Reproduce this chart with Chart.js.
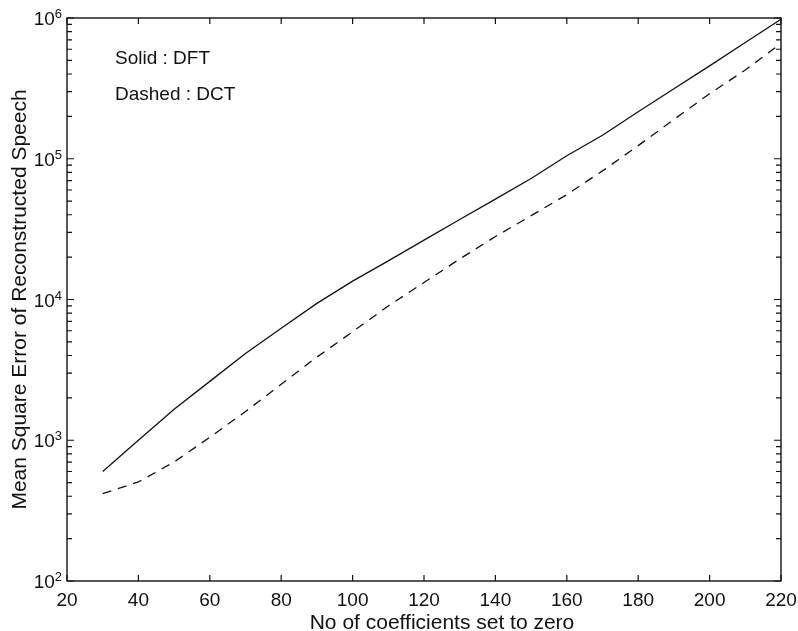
<!DOCTYPE html>
<html>
<head>
<meta charset="utf-8">
<script src="https://cdn.jsdelivr.net/npm/chart.js@4/dist/chart.umd.min.js"></script>
<style>
  html, body { margin: 0; padding: 0; background: #fff; }
  #wrap { width: 798px; height: 631px; }
</style>
</head>
<body>
<div id="wrap"><canvas id="mse"></canvas></div>
<script>
// coefficients set to zero
var coeffs = [30, 40, 50, 60, 70, 80, 90, 100, 110, 120, 130, 140, 150, 160, 170, 180, 190, 200, 210, 220];
// mean square error
var dftErr = [600, 1000, 1660, 2620, 4140, 6240, 9380, 13500, 18800, 26400, 37000, 51700, 72400, 105000, 147000, 216000, 314000, 457000, 670000, 980000];
var dctErr = [418, 506, 700, 1050, 1600, 2500, 3900, 5900, 9000, 13200, 19400, 28000, 39400, 55600, 82000, 124000, 190000, 290000, 427000, 660000];
var xTicks = [20, 40, 60, 80, 100, 120, 140, 160, 180, 200, 220];
var yTicks = [1e2, 1e3, 1e4, 1e5, 1e6];

const FONT = '"Liberation Sans", Arial, Helvetica, sans-serif';
const INK = '#111';

function pts(ys) {
  return coeffs.map((c, i) => ({x: c, y: ys[i]}));
}

// matlab style box with inward ticks, power-of-ten labels and notes
const frame = {
  id: 'frame',
  afterDatasetsDraw(chart) {
    const {ctx, chartArea: a, scales} = chart;
    const xs = scales.x, ys = scales.y;
    ctx.save();
    ctx.strokeStyle = INK;
    ctx.lineWidth = 1.4;
    ctx.strokeRect(a.left, a.top, a.right - a.left, a.bottom - a.top);
    ctx.lineWidth = 1.2;
    ctx.beginPath();
    xTicks.forEach(v => {
      const px = xs.getPixelForValue(v);
      ctx.moveTo(px, a.bottom); ctx.lineTo(px, a.bottom - 6);
      ctx.moveTo(px, a.top); ctx.lineTo(px, a.top + 6);
    });
    for (let k = 2; k <= 6; k++) {
      for (let m = 1; m <= 9; m++) {
        const v = m * Math.pow(10, k);
        if (v > 1e6) break;
        const py = ys.getPixelForValue(v);
        const len = m === 1 ? 7 : 5;
        ctx.moveTo(a.left, py); ctx.lineTo(a.left + len, py);
        ctx.moveTo(a.right, py); ctx.lineTo(a.right - len, py);
      }
    }
    ctx.stroke();

    ctx.fillStyle = INK;
    // y tick labels 10^k
    yTicks.forEach(v => {
      const py = ys.getPixelForValue(v);
      const e = String(Math.round(Math.log10(v)));
      ctx.font = '13px ' + FONT;
      const ew = ctx.measureText(e).width;
      ctx.textAlign = 'right';
      ctx.textBaseline = 'alphabetic';
      ctx.fillText(e, a.left - 5, py);
      ctx.font = '19px ' + FONT;
      ctx.textBaseline = 'middle';
      ctx.fillText('10', a.left - 5 - ew, py + 2);
    });

    ctx.textAlign = 'left';
    ctx.textBaseline = 'middle';
    ctx.font = '19px ' + FONT;
    ctx.fillText('Solid : DFT', a.left + 48, 59);
    ctx.fillText('Dashed : DCT', a.left + 48, 95);

    ctx.textAlign = 'center';
    ctx.font = '21px ' + FONT;
    ctx.fillText('No of coefficients set to zero', 442, 623);
    ctx.restore();
  }
};

new Chart(document.getElementById('mse'), {
  type: 'line',
  data: {
    datasets: [{
      label: 'DFT',
      data: pts(dftErr),
      borderColor: INK,
      borderWidth: 1.3,
      pointRadius: 0,
      fill: false,
      tension: 0
    }, {
      label: 'DCT',
      data: pts(dctErr),
      borderColor: INK,
      borderWidth: 1.3,
      borderDash: [9, 7],
      pointRadius: 0,
      fill: false,
      tension: 0
    }]
  },
  options: {
    responsive: true,
    maintainAspectRatio: false,
    animation: false,
    layout: { padding: { left: 0, right: 17, top: 18, bottom: 0 } },
    plugins: { legend: { display: false }, tooltip: { enabled: false } },
    scales: {
      x: {
        type: 'linear',
        min: 20, max: 220,
        afterBuildTicks: s => { s.ticks = xTicks.map(v => ({value: v})); },
        afterFit: s => { s.height = 50; s.paddingLeft = 0; s.paddingRight = 0; },
        grid: { display: false, drawTicks: false },
        border: { display: false },
        ticks: { color: INK, padding: 8, maxRotation: 0, font: { family: FONT, size: 19 } }
      },
      y: {
        type: 'logarithmic',
        min: 1e2, max: 1e6,
        afterBuildTicks: s => { s.ticks = yTicks.map(v => ({value: v})); },
        afterFit: s => { s.width = 67; s.paddingTop = 0; s.paddingBottom = 0; },
        grid: { display: false, drawTicks: false },
        border: { display: false },
        ticks: { display: false },
        title: {
          display: true,
          text: 'Mean Square Error of Reconstructed Speech',
          color: INK,
          padding: { top: 8, bottom: 0 },
          font: { family: FONT, size: 21 }
        }
      }
    }
  },
  plugins: [frame]
});
</script>
</body>
</html>
